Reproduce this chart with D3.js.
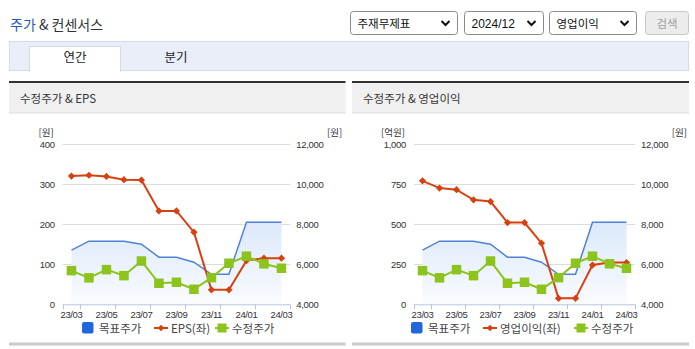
<!DOCTYPE html>
<html><head><meta charset="utf-8">
<script src="https://cdn.jsdelivr.net/npm/d3@7/dist/d3.min.js"></script>
<style>
html,body{margin:0;padding:0;background:#fff;}
svg{display:block;}
</style></head>
<body>
<svg id="c" width="695" height="349"></svg>
<script>
// ---- data ----
const categories = ["23/03","23/04","23/05","23/06","23/07","23/08","23/09","23/10","23/11","23/12","24/01","24/02","24/03"];
const xTickLabels = ["23/03","23/05","23/07","23/09","23/11","24/01","24/03"];
const targetPrice = [6700,7150,7150,7150,7000,6350,6350,6100,5500,5500,8100,8100,8100];
const adjPrice = [5680,5320,5730,5430,6160,5050,5100,4750,5330,6050,6400,6020,5800];
const eps = [320,322,319,311,310,233,233,180,36,36,109,115,115];
const opIncome = [770,725,715,652,641,510,510,381,37,37,245,260,260];
const epsTicks = [0,100,200,300,400];
const opTicks = [0,250,500,750,1000];
const priceTicks = [4000,6000,8000,10000,12000];
const selectTexts = ["주재무제표","2024/12","영업이익"];
const tabTexts = ["연간","분기"];

const svg = d3.select("#c");
const KR = "'Noto Sans CJK KR','Noto Sans',sans-serif";
const NUM = "'Liberation Sans',Arial,sans-serif";

// ---- header ----
const title = svg.append("text").attr("x",10).attr("y",30).attr("font-family",KR).attr("font-size",14);
title.append("tspan").attr("fill","#2458b5").text("주가");
title.append("tspan").attr("fill","#333").text(" & 컨센서스");

const selBoxes = [[350.5,107],[464.5,79],[549.5,87]];
selBoxes.forEach((b,i)=>{
  svg.append("rect").attr("x",b[0]).attr("y",11.5).attr("width",b[1]).attr("height",23).attr("rx",3)
    .attr("fill","#fff").attr("stroke","#8a8a8a");
  svg.append("text").attr("x",b[0]+7).attr("y",27.5).attr("font-family",i===1?NUM:KR).attr("font-size",i===1?12:11.5)
    .attr("fill","#111").text(selectTexts[i]);
  const cx=b[0]+b[1]-12;
  svg.append("path").attr("d",`M${cx-4},21 L${cx},25 L${cx+4},21`).attr("fill","none").attr("stroke","#111").attr("stroke-width",2);
});
svg.append("rect").attr("x",645.5).attr("y",11.5).attr("width",43).attr("height",23).attr("rx",3)
  .attr("fill","#ececec").attr("stroke","#c8c8c8");
svg.append("text").attr("x",667).attr("y",27.5).attr("text-anchor","middle").attr("font-family",KR).attr("font-size",11.5)
  .attr("fill","#a0a0a0").text("검색");

// tabs
svg.append("rect").attr("x",9.5).attr("y",41.5).attr("width",679).attr("height",29).attr("fill","#e9eef8").attr("stroke","#d3dbe8");
svg.append("rect").attr("x",29.5).attr("y",46.5).attr("width",91).attr("height",25).attr("fill","#fff").attr("stroke","#d3dbe8");
svg.append("rect").attr("x",30).attr("y",69).attr("width",90).attr("height",3).attr("fill","#fff");
svg.append("text").attr("x",75).attr("y",61.5).attr("text-anchor","middle").attr("font-family",KR).attr("font-size",12.5).attr("fill","#222").text(tabTexts[0]);
svg.append("text").attr("x",176).attr("y",61.5).attr("text-anchor","middle").attr("font-family",KR).attr("font-size",12.5).attr("fill","#222").text(tabTexts[1]);

// gradient
const defs = svg.append("defs");
const g = defs.append("linearGradient").attr("id","blueGrad").attr("x1",0).attr("y1",0).attr("x2",0).attr("y2",1);
g.append("stop").attr("offset","0%").attr("stop-color","#dce9fa");
g.append("stop").attr("offset","100%").attr("stop-color","#f9fbff");

function panel(opt){
  const {x0,x1,title,leftVals,leftTicks,leftMax,leftUnit,leftName,plotL,plotR,legendX} = opt;
  // header
  svg.append("rect").attr("x",x0).attr("y",83).attr("width",x1-x0).attr("height",30).attr("fill","#f0f0f0");
  svg.append("rect").attr("x",x0).attr("y",81).attr("width",x1-x0).attr("height",2).attr("fill","#333");
  svg.append("rect").attr("x",x0).attr("y",112.5).attr("width",x1-x0).attr("height",1).attr("fill","#dcdcdc");
  svg.append("text").attr("x",x0+11).attr("y",102.5).attr("font-family",KR).attr("font-size",11.5).attr("fill","#333").text(title);
  svg.append("rect").attr("x",x0).attr("y",342.5).attr("width",x1-x0).attr("height",3).attr("fill","#cacaca");

  const top=144, bot=304.3;
  const x = d3.scaleBand().domain(categories).range([plotL,plotR]);
  const xc = d => x(d)+x.bandwidth()/2;
  const yL = d3.scaleLinear().domain([0,leftMax]).range([bot,top]);
  const yR = d3.scaleLinear().domain([4000,12000]).range([bot,top]);

  // grid
  svg.append("g").selectAll("line").data(leftTicks.slice(1)).join("line")
    .attr("x1",plotL).attr("x2",plotR).attr("y1",d=>Math.round(yL(d))+0.5).attr("y2",d=>Math.round(yL(d))+0.5)
    .attr("stroke","#dcdcdc");

  // axis labels
  const fmt = d3.format(",");
  svg.append("g").selectAll("text").data(leftTicks).join("text")
    .attr("x",plotL-8).attr("y",d=>yL(d)+3.5).attr("text-anchor","end").attr("font-family",NUM).attr("font-size",9.5)
    .attr("letter-spacing",-0.3).attr("fill","#333").text(d=>fmt(d));
  svg.append("g").selectAll("text").data(priceTicks).join("text")
    .attr("x",plotR+6).attr("y",d=>yR(d)+3.5).attr("text-anchor","start").attr("font-family",NUM).attr("font-size",9.5)
    .attr("letter-spacing",-0.3).attr("fill","#333").text(d=>fmt(d));
  svg.append("text").attr("x",plotL-9).attr("y",136).attr("text-anchor","end").attr("font-family",KR).attr("font-size",9.5).attr("fill","#333").text(leftUnit);
  svg.append("text").attr("x",plotR+52).attr("y",136).attr("text-anchor","end").attr("font-family",KR).attr("font-size",9.5).attr("fill","#333").text("[원]");

  // target price area
  const area = d3.area().x((d,i)=>xc(categories[i])).y0(bot).y1(d=>yR(d));
  svg.append("path").datum(targetPrice).attr("d",area).attr("fill","url(#blueGrad)");
  const line = (ys) => d3.line().x((d,i)=>xc(categories[i])).y(d=>ys(d));
  svg.append("path").datum(targetPrice).attr("d",line(yR)).attr("fill","none").attr("stroke","#4f82d8").attr("stroke-width",1.5);

  // x axis
  svg.append("line").attr("x1",plotL).attr("x2",plotR).attr("y1",bot+0.5).attr("y2",bot+0.5).attr("stroke","#b7c7dc");
  const tickIdx = [-0.5];
  for(let i=0;i<categories.length;i+=2) tickIdx.push(i+0.5);
  svg.append("g").selectAll("line").data(tickIdx).join("line")
    .attr("x1",d=>Math.round(plotL+x.step()*(d+0.5))+0.5).attr("x2",d=>Math.round(plotL+x.step()*(d+0.5))+0.5)
    .attr("y1",bot).attr("y2",bot+5).attr("stroke","#b7c7dc");
  svg.append("g").selectAll("text").data(xTickLabels).join("text")
    .attr("x",d=>xc(d)).attr("y",bot+13.5).attr("text-anchor","middle").attr("font-family",NUM).attr("font-size",9.5)
    .attr("letter-spacing",-0.4).attr("fill","#333").text(d=>d);

  // left series (red)
  svg.append("path").datum(leftVals).attr("d",line(yL)).attr("fill","none").attr("stroke","#d6410f").attr("stroke-width",2);
  svg.append("g").selectAll("path").data(leftVals).join("path")
    .attr("d",d3.symbol(d3.symbolSquare,26))
    .attr("transform",(d,i)=>`translate(${xc(categories[i])},${yL(d)}) rotate(45)`).attr("fill","#d6410f");

  // adjusted price (green)
  svg.append("path").datum(adjPrice).attr("d",line(yR)).attr("fill","none").attr("stroke","#8cc31c").attr("stroke-width",2);
  svg.append("g").selectAll("rect").data(adjPrice).join("rect")
    .attr("x",(d,i)=>xc(categories[i])-4.75).attr("y",d=>yR(d)-4.75).attr("width",9.5).attr("height",9.5).attr("fill","#8cc31c");

  // legend
  const ly=328;
  const lg = svg.append("g").attr("transform",`translate(${legendX},0)`);
  lg.append("rect").attr("x",0).attr("y",ly-6).attr("width",11.5).attr("height",11.5).attr("rx",2).attr("fill","#2167db");
  lg.append("text").attr("x",17).attr("y",ly+4.5).attr("font-family",KR).attr("font-size",11.5).attr("fill","#444").text("목표주가");
  const rx = 72;
  lg.append("line").attr("x1",rx).attr("x2",rx+14).attr("y1",ly).attr("y2",ly).attr("stroke","#d6410f").attr("stroke-width",2);
  lg.append("path").attr("d",d3.symbol(d3.symbolSquare,22)).attr("transform",`translate(${rx+7},${ly}) rotate(45)`).attr("fill","#d6410f");
  lg.append("text").attr("x",rx+17).attr("y",ly+4.5).attr("font-family",KR).attr("font-size",11.5).attr("fill","#444").text(leftName);
  const gx = opt.greenX;
  lg.append("line").attr("x1",gx).attr("x2",gx+14).attr("y1",ly).attr("y2",ly).attr("stroke","#8cc31c").attr("stroke-width",2);
  lg.append("rect").attr("x",gx+2.5).attr("y",ly-4.5).attr("width",9).attr("height",9).attr("fill","#8cc31c");
  lg.append("text").attr("x",gx+17).attr("y",ly+4.5).attr("font-family",KR).attr("font-size",11.5).attr("fill","#444").text("수정주가");
}

panel({x0:9,x1:345.5,title:"수정주가 & EPS",leftVals:eps,leftTicks:epsTicks,leftMax:400,leftUnit:"[원]",leftName:"EPS(좌)",
  plotL:62.7,plotR:290.2,legendX:82,greenX:133});
panel({x0:352,x1:689,title:"수정주가 & 영업이익",leftVals:opIncome,leftTicks:opTicks,leftMax:1000,leftUnit:"[억원]",leftName:"영업이익(좌)",
  plotL:414,plotR:635,legendX:411,greenX:163});
</script>
</body></html>
